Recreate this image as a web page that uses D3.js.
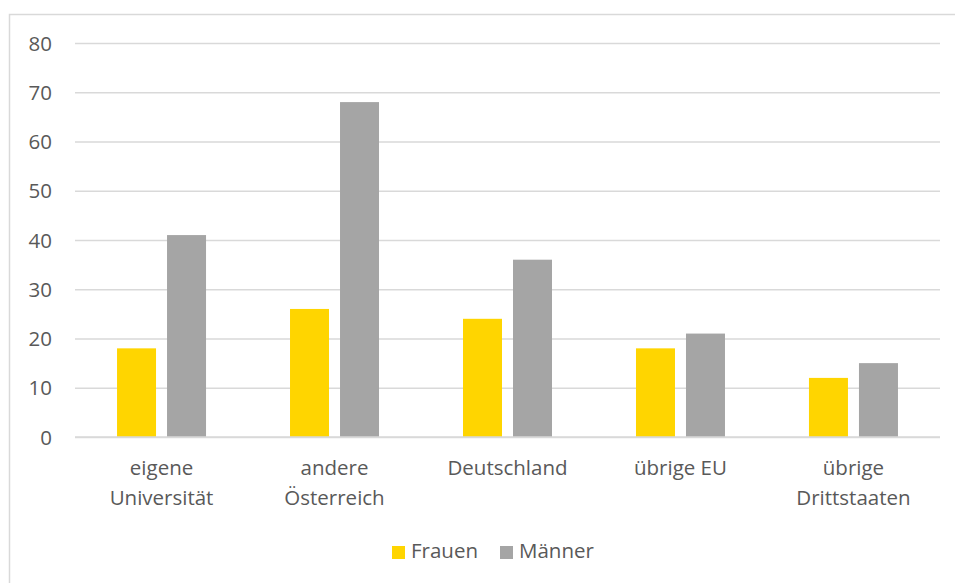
<!DOCTYPE html>
<html>
<head>
<meta charset="utf-8">
<script src="https://cdn.jsdelivr.net/npm/d3@7"></script>
<style>
  html, body { margin: 0; padding: 0; background: #fff; }
  svg { display: block; font-family: "Open Sans", "Noto Sans", sans-serif; }
</style>
</head>
<body>
<svg id="chart" width="955" height="583"></svg>
<script>
const categories = [["eigene", "Universität"], ["andere", "Österreich"], ["Deutschland"], ["übrige EU"], ["übrige", "Drittstaaten"]];
const seriesNames = ["Frauen", "Männer"];
const frauen = [18, 26, 24, 18, 12];
const maenner = [41, 68, 36, 21, 15];
const yTicks = [0, 10, 20, 30, 40, 50, 60, 70, 80];
const colors = ["#FFD500", "#A5A5A5"];

const svg = d3.select("#chart");
const W = 955, H = 583;
const plot = { left: 75, right: 940, top: 43, bottom: 437 };
const fontSize = 20.5;
const textColor = "#595959";

// outer frame of the chart area
svg.append("rect")
  .attr("x", 9.5).attr("y", 14.5)
  .attr("width", W + 10).attr("height", H + 10)
  .attr("fill", "#fff").attr("stroke", "#D9D9D9").attr("stroke-width", 1.5);

const x0 = d3.scaleBand()
  .domain(d3.range(categories.length))
  .range([plot.left, plot.right])
  .paddingInner(0.4855).paddingOuter(0.243);
const x1 = d3.scaleBand()
  .domain(seriesNames)
  .range([0, x0.bandwidth()])
  .paddingInner(0.22);
const y = d3.scaleLinear().domain([0, 80]).range([plot.bottom, plot.top]);
const color = d3.scaleOrdinal().domain(seriesNames).range(colors);

// gridlines and y labels
const yAxis = d3.axisLeft(y).tickValues(yTicks).tickSize(-(plot.right - plot.left)).tickPadding(23);
const gy = svg.append("g").attr("transform", `translate(${plot.left},0)`).call(yAxis);
gy.select(".domain").remove();
gy.selectAll(".tick line").attr("stroke", "#D9D9D9").attr("stroke-width", 1.3);
gy.selectAll(".tick text").attr("fill", textColor).attr("font-size", fontSize)
  .attr("font-family", "'Open Sans', sans-serif").attr("dy", "0.35em");

// bars
const rows = categories.map((c, i) => ({ i, values: [frauen[i], maenner[i]] }));
const groups = svg.append("g").selectAll("g").data(rows).join("g")
  .attr("transform", d => `translate(${x0(d.i)},0)`);
groups.selectAll("rect")
  .data(d => d.values.map((v, k) => ({ key: seriesNames[k], value: v })))
  .join("rect")
  .attr("x", d => x1(d.key))
  .attr("width", x1.bandwidth())
  .attr("y", d => y(d.value))
  .attr("height", d => y(0) - y(d.value))
  .attr("fill", d => color(d.key));

// baseline redrawn on top of bars
svg.append("line")
  .attr("x1", plot.left).attr("x2", plot.right)
  .attr("y1", y(0)).attr("y2", y(0))
  .attr("stroke", "#D9D9D9").attr("stroke-width", 1.3);

// category labels
const labels = svg.append("g").selectAll("text").data(categories).join("text")
  .attr("text-anchor", "middle")
  .attr("fill", textColor).attr("font-size", fontSize)
  .attr("x", (d, i) => x0(i) + x0.bandwidth() / 2);
labels.selectAll("tspan").data(d => d).join("tspan")
  .attr("x", function () { return d3.select(this.parentNode).attr("x"); })
  .attr("y", (d, k) => 475 + k * 30)
  .text(d => d);

// legend
const legend = svg.append("g");
const legendItems = [{ name: "Frauen", x: 392 }, { name: "Männer", x: 500 }];
legendItems.forEach(it => {
  legend.append("rect").attr("x", it.x).attr("y", 546).attr("width", 13).attr("height", 13)
    .attr("fill", color(it.name));
  legend.append("text").attr("x", it.x + 19).attr("y", 558)
    .attr("fill", textColor).attr("font-size", fontSize).text(it.name);
});
</script>
</body>
</html>
